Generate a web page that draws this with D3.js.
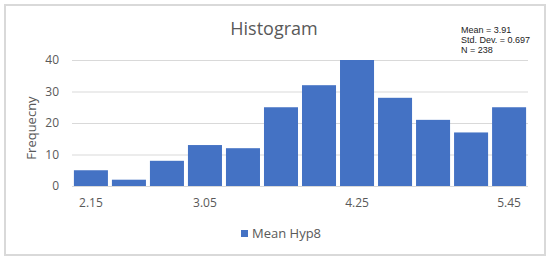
<!DOCTYPE html>
<html>
<head>
<meta charset="utf-8">
<script src="https://cdn.jsdelivr.net/npm/d3@7"></script>
<style>
  html, body { margin: 0; padding: 0; background: #fff; }
  svg { display: block; }
  .tick-label { font-family: "Open Sans", sans-serif; font-size: 12px; fill: #595959; }
</style>
</head>
<body>
<svg id="chart" width="550" height="260"></svg>
<script>
const bins = ["2.15", "2.45", "2.75", "3.05", "3.35", "3.65", "3.95", "4.25", "4.55", "4.85", "5.15", "5.45"];
const shownLabels = ["2.15", "3.05", "4.25", "5.45"];
const frequency = [5, 2, 8, 13, 12, 25, 32, 40, 28, 21, 17, 25];
const yTicks = [0, 10, 20, 30, 40];
const statLines = ["Mean = 3.91", "Std. Dev. = 0.697", "N = 238"];
const seriesName = "Mean Hyp8";

const svg = d3.select("#chart");
const plot = { left: 72, right: 528, top: 60, bottom: 186 };

svg.append("rect")
  .attr("x", 5).attr("y", 5).attr("width", 540).attr("height", 250)
  .attr("fill", "#fff").attr("stroke", "#d9d9d9").attr("stroke-width", 2);

const x = d3.scaleBand().domain(bins).range([plot.left, plot.right]).paddingInner(0.105).paddingOuter(0.05);
const y = d3.scaleLinear().domain([0, 40]).range([plot.bottom, plot.top]);

// gridlines
svg.append("g")
  .selectAll("line")
  .data(yTicks)
  .join("line")
  .attr("x1", plot.left).attr("x2", plot.right)
  .attr("y1", d => y(d) + 0.5).attr("y2", d => y(d) + 0.5)
  .attr("stroke", "#d9d9d9").attr("stroke-width", 1);

const yAxis = svg.append("g")
  .attr("transform", `translate(${plot.left},0)`)
  .call(d3.axisLeft(y).tickValues(yTicks).tickSize(0).tickPadding(13));
yAxis.select(".domain").remove();
yAxis.selectAll("text").attr("class", "tick-label").attr("font-family", null).attr("font-size", null);

svg.append("g")
  .selectAll("rect")
  .data(frequency)
  .join("rect")
  .attr("x", (d, i) => x(bins[i]))
  .attr("width", x.bandwidth())
  .attr("y", d => y(d))
  .attr("height", d => y(0) - y(d))
  .attr("fill", "#4472c4");

const xAxis = svg.append("g")
  .attr("transform", `translate(0,${plot.bottom})`)
  .call(d3.axisBottom(x).tickSize(0).tickPadding(12)
    .tickFormat(d => shownLabels.includes(d) ? d : ""));
xAxis.select(".domain").remove();
xAxis.selectAll("text").attr("class", "tick-label").attr("font-family", null).attr("font-size", null);

svg.append("line")
  .attr("x1", plot.left).attr("x2", plot.right)
  .attr("y1", plot.bottom + 0.5).attr("y2", plot.bottom + 0.5)
  .attr("stroke", "#d9d9d9");

svg.append("text")
  .attr("x", 274).attr("y", 35)
  .attr("text-anchor", "middle")
  .attr("font-family", "Open Sans, sans-serif")
  .attr("font-size", 18)
  .attr("fill", "#595959")
  .text("Histogram");

svg.append("text")
  .attr("transform", "translate(36,128) rotate(-90)")
  .attr("text-anchor", "middle")
  .attr("font-family", "Open Sans, sans-serif")
  .attr("font-size", 13)
  .attr("fill", "#595959")
  .text("Frequecny");

// stats box text, top right
svg.append("g")
  .selectAll("text")
  .data(statLines)
  .join("text")
  .attr("x", 461)
  .attr("y", (d, i) => 33 + i * 10)
  .attr("font-family", "Liberation Sans, Arial, sans-serif")
  .attr("font-size", 9)
  .attr("fill", "#222")
  .text(d => d);

const legend = svg.append("g");
legend.append("rect")
  .attr("x", 241).attr("y", 230).attr("width", 7).attr("height", 7)
  .attr("fill", "#4472c4");
legend.append("text")
  .attr("x", 252).attr("y", 238)
  .attr("font-family", "Open Sans, sans-serif")
  .attr("font-size", 13)
  .attr("fill", "#595959")
  .text(seriesName);
</script>
</body>
</html>
